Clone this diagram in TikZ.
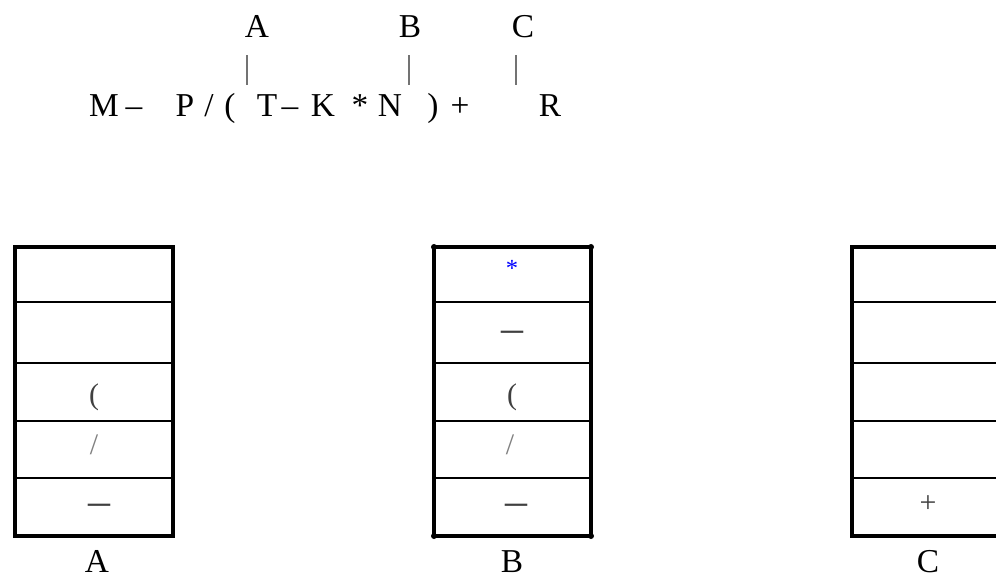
\documentclass[tikz,border=0pt]{standalone}
\usepackage{fontspec}
\setmainfont{Liberation Serif}
\usetikzlibrary{positioning}

\tikzset{
  tok/.style={anchor=base, inner sep=0pt, font=\fontsize{19}{22}\selectfont},
  sym/.style={anchor=center, inner sep=0pt, text=black!75, font=\fontsize{17}{20}\selectfont},
  minussym/.style={sym, font=\fontsize{25}{28}\selectfont},
  wall/.style={line width=2.4pt, line cap=square},
  cell/.style={line width=1.1pt},
  tick/.style={line width=0.6pt, black!55}
}

\begin{document}
\begin{tikzpicture}[x=0.02cm, y=-0.02cm]
  \clip (0,0) rectangle (996,577);
  \fill[white] (0,0) rectangle (996,577);

  % expression, scanned left to right
  \node[tok] (eM)  at (104,117) {M};
  \node[tok] (eo1) at (134,117) {--};
  \node[tok] (eP)  at (185,117) {P};
  \node[tok] (eo2) at (209,117) {/};
  \node[tok] (eo3) at (230,117) {(};
  \node[tok] (eT)  at (267,117) {T};
  \node[tok] (eo4) at (290,117) {--};
  \node[tok] (eK)  at (323,117) {K};
  \node[tok] (eo5) at (360,117) {*};
  \node[tok] (eN)  at (390,117) {N};
  \node[tok] (eo6) at (433,117) {)};
  \node[tok] (eo7) at (460,117) {+};
  \node[tok] (eR)  at (550,117) {R};

  % scan positions
  \node[tok] (pA) at (257,38) {A};
  \node[tok] (pB) at (410,38) {B};
  \node[tok] (pC) at (523,38) {C};
  \coordinate (kA) at (247,85);
  \coordinate (kB) at (409,85);
  \coordinate (kC) at (516,85);
  \draw[tick] (kA) -- ++(0,-30);
  \draw[tick] (kB) -- ++(0,-30);
  \draw[tick] (kC) -- ++(0,-30);

  % three stacks
  \foreach \xl/\xr in {15/173, 434/591, 852/1010} {
    \foreach \y in {302,363,421,478}
      \draw[cell] (\xl,\y) -- (\xr,\y);
    \draw[wall] (\xl,247) rectangle (\xr,536);
  }
  \foreach \c in {(434,247),(591,247),(434,536),(591,536)}
    \fill \c circle[radius=3];

  % stack A
  \node[sym] (a3) at (94,397) {(};
  \node[sym, text=black!50] (a4) at (94,445) {/};
  \node[minussym] (a5) at (99,510) {--};
  \node[tok] (sA) at (97,572) {A};

  % stack B
  \node[sym, text=blue, font=\fontsize{14}{16}\selectfont] (b1) at (512,268) {*};
  \node[minussym] (b2) at (512,337) {--};
  \node[sym] (b3) at (512,397) {(};
  \node[sym, text=black!50] (b4) at (510,445) {/};
  \node[minussym] (b5) at (516,510) {--};
  \node[tok] (sB) at (512,572) {B};

  % stack C
  \node[sym] (c5) at (928,504) {+};
  \node[tok] (sC) at (928,572) {C};
\end{tikzpicture}
\end{document}
